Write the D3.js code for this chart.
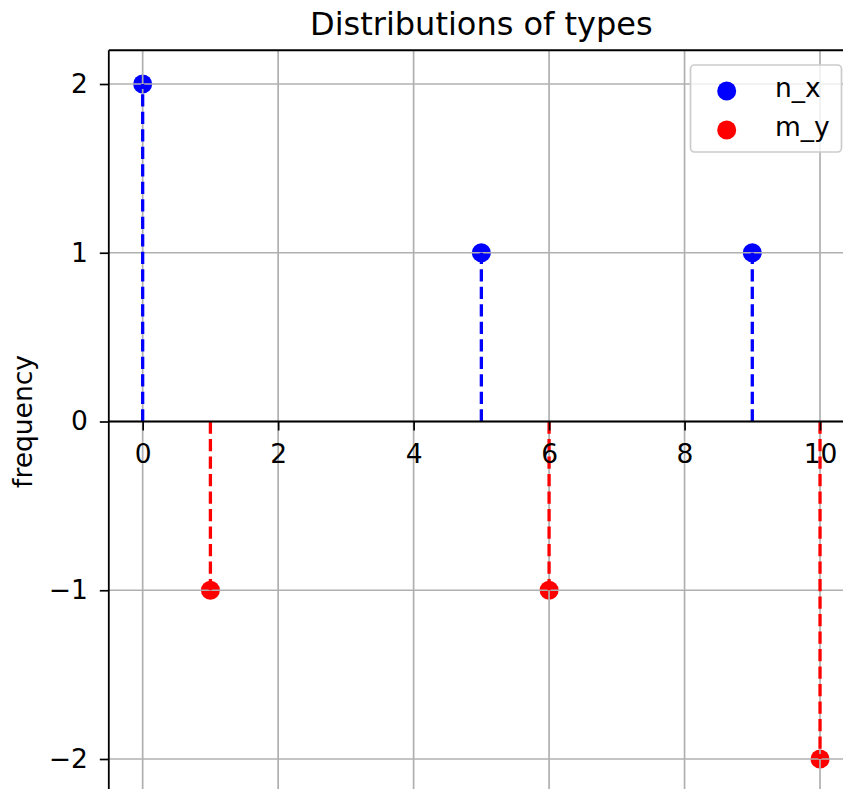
<!DOCTYPE html>
<html>
<head>
<meta charset="utf-8">
<script src="https://cdn.jsdelivr.net/npm/d3@7"></script>
<style>
  html, body { margin: 0; padding: 0; background: #fff; }
  svg { display: block; font-family: "DejaVu Sans", sans-serif; }
</style>
</head>
<body>
<svg id="chart" width="843" height="789"></svg>
<script>
// ---- data ----
const nxPositions = [0, 5, 9];
const nxValues = [2, 1, 1];
const myPositions = [1, 6, 10];
const myValues = [-1, -1, -2];
const xTicks = [0, 2, 4, 6, 8, 10];
const yTicks = [-2, -1, 0, 1, 2];
const seriesNames = ["n_x", "m_y"];
const seriesColors = ["#0000ff", "#ff0000"];
const titleText = "Distributions of types";
const yLabelText = "frequency";

(function () {
// ---- layout ----
const svg = d3.select("#chart");
const pL = 108.8, pR = 853.9, pT = 50.25, pB = 792.75;
const x = d3.scaleLinear().domain([-0.5, 10.5]).range([pL, pR]);
const y = d3.scaleLinear().domain([-2.2, 2.2]).range([pB, pT]);

const fontSize = 26.5;
const gridColor = "#b0b0b0";

const series = [
  { name: seriesNames[0], color: seriesColors[0], xs: nxPositions, ys: nxValues },
  { name: seriesNames[1], color: seriesColors[1], xs: myPositions, ys: myValues }
];

// markers (below grid)
const markers = svg.append("g");
series.forEach(s => {
  const pts = s.xs.map((v, i) => ({ x: v, y: s.ys[i] }));
  markers.selectAll(null).data(pts).enter().append("circle")
    .attr("cx", d => x(d.x)).attr("cy", d => y(d.y))
    .attr("r", 9.5).attr("fill", s.color);
});

// grid
const grid = svg.append("g");
xTicks.forEach(t => {
  grid.append("line").attr("x1", x(t)).attr("x2", x(t)).attr("y1", pT).attr("y2", pB)
    .attr("stroke", gridColor).attr("stroke-width", 1.7);
});
yTicks.forEach(t => {
  grid.append("line").attr("x1", pL).attr("x2", pR).attr("y1", y(t)).attr("y2", y(t))
    .attr("stroke", gridColor).attr("stroke-width", 1.7);
});

// stems (above grid)
const stems = svg.append("g");
series.forEach(s => {
  const pts = s.xs.map((v, i) => ({ x: v, y: s.ys[i] }));
  stems.selectAll(null).data(pts).enter().append("line")
    .attr("x1", d => x(d.x)).attr("x2", d => x(d.x))
    .attr("y1", y(0)).attr("y2", d => y(d.y))
    .attr("stroke", s.color).attr("stroke-width", 3.3)
    .attr("stroke-dasharray", "12.2,5.3");
});

// axes
const yAxis = d3.axisLeft(y).tickValues(yTicks)
  .tickFormat(d => d < 0 ? "\u2212" + Math.abs(d) : String(d))
  .tickSize(9).tickPadding(12);
const gy = svg.append("g").attr("transform", `translate(${pL},0)`).call(yAxis);
const xAxis = d3.axisBottom(x).tickValues(xTicks).tickFormat(d => String(d))
  .tickSize(9).tickPadding(14);
const gx = svg.append("g").attr("transform", `translate(0,${y(0)})`).call(xAxis);
[gx, gy].forEach(g => {
  g.select(".domain").remove();
  g.selectAll(".tick line").attr("stroke", "#000").attr("stroke-width", 1.7);
  g.selectAll(".tick text").attr("fill", "#000").attr("font-size", fontSize)
    .attr("font-family", "DejaVu Sans, sans-serif");
});

// spines
const spines = svg.append("g").attr("stroke", "#000").attr("stroke-width", 1.8).attr("fill", "none");
spines.append("line").attr("x1", pL).attr("x2", pL).attr("y1", pT).attr("y2", pB);
spines.append("line").attr("x1", pL).attr("x2", pR).attr("y1", pT).attr("y2", pT);
spines.append("line").attr("x1", pR).attr("x2", pR).attr("y1", pT).attr("y2", pB);
spines.append("line").attr("x1", pL).attr("x2", pR).attr("y1", y(0)).attr("y2", y(0));

// title
svg.append("text").attr("x", (pL + pR) / 2).attr("y", 35)
  .attr("text-anchor", "middle").attr("font-size", 32).attr("fill", "#000")
  .text(titleText);

// y label
svg.append("text").attr("transform", `translate(32,${(pT + pB) / 2}) rotate(-90)`)
  .attr("text-anchor", "middle").attr("font-size", fontSize).attr("fill", "#000")
  .text(yLabelText);

// legend
const lg = svg.append("g");
lg.append("rect").attr("x", 690.5).attr("y", 65).attr("width", 151).attr("height", 87)
  .attr("rx", 4).attr("fill", "#fff").attr("fill-opacity", 0.8)
  .attr("stroke", "#cccccc").attr("stroke-width", 1.7);
series.forEach((s, i) => {
  const cy = 91 + i * 39;
  lg.append("circle").attr("cx", 726.7).attr("cy", cy).attr("r", 9.5).attr("fill", s.color);
  lg.append("text").attr("x", 775).attr("y", cy + 6).attr("font-size", fontSize)
    .attr("fill", "#000").text(s.name);
});
})();
</script>
</body>
</html>
